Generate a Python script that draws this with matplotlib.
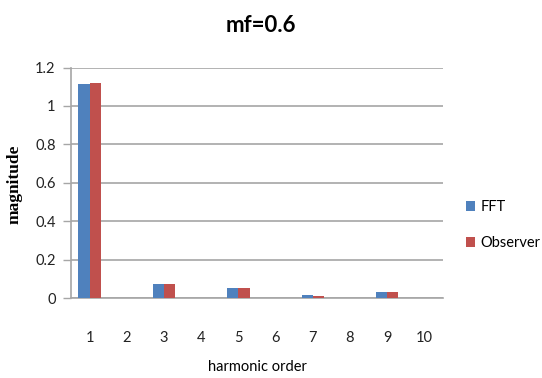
import matplotlib
matplotlib.use("Agg")
import matplotlib.pyplot as plt
import numpy as np

orders = [1, 2, 3, 4, 5, 6, 7, 8, 9, 10]
fft = [1.112, 0, 0.074, 0, 0.051, 0, 0.014, 0, 0.030, 0]
observer = [1.118, 0, 0.074, 0, 0.051, 0, 0.013, 0, 0.030, 0]
yticks = [0, 0.2, 0.4, 0.6, 0.8, 1, 1.2]
ytick_labels = ["0", "0.2", "0.4", "0.6", "0.8", "1", "1.2"]

blue = "#4F81BD"
red = "#C0504D"
grid = "#A6A6A6"
font = ["Lato", "DejaVu Sans"]

fig = plt.figure(figsize=(5.42, 3.78), dpi=100)
ax = fig.add_axes([71 / 542, 1 - 298 / 378, 372 / 542, 230.5 / 378])

x = np.arange(len(orders))
w = 0.3
ax.bar(x - w / 2, fft, width=w, color=blue, label="FFT", zorder=3)
ax.bar(x + w / 2, observer, width=w, color=red, label="Observer", zorder=3)

ax.set_xlim(-0.5, len(orders) - 0.5)
ax.set_ylim(0, 1.2)
ax.set_yticks(yticks)
ax.set_yticklabels(ytick_labels, fontfamily=font, fontsize=10.5, color="#222222")
ax.set_xticks(x)
ax.set_xticklabels([str(o) for o in orders], fontfamily=font, fontsize=10.5, color="#222222")
ax.tick_params(axis="x", length=0, pad=24)
ax.tick_params(axis="y", length=6, width=1, color=grid, pad=5)

ax.grid(axis="y", color=grid, linewidth=1.2, zorder=0)
for s in ["top", "right"]:
    ax.spines[s].set_visible(False)
ax.spines["left"].set_color(grid)
ax.spines["left"].set_linewidth(1.2)
ax.spines["bottom"].set_color(grid)
ax.spines["bottom"].set_linewidth(1.2)

fig.text(261 / 542, 1 - 25 / 378, "mf=0.6", ha="center", va="center",
         fontsize=16, fontweight="bold", fontfamily=font)
fig.text(257 / 542, 1 - 367 / 378, "harmonic order", ha="center", va="center",
         fontsize=10.5, fontfamily=font)
fig.text(15 / 542, 1 - 184 / 378, "magnitude", ha="center", va="center",
         rotation=90, fontsize=12.5, fontweight="bold", fontfamily=["Liberation Serif", "DejaVu Serif"])

handles, labels = ax.get_legend_handles_labels()
fig.legend(handles, labels, loc="center left", bbox_to_anchor=(466 / 542, 1 - 225 / 378),
           frameon=False, prop={"family": font, "size": 10.5}, borderpad=0, borderaxespad=0,
           handlelength=0.65, handleheight=0.65, handletextpad=0.35, labelspacing=1.5)

fig.savefig("out.png", dpi=100)
